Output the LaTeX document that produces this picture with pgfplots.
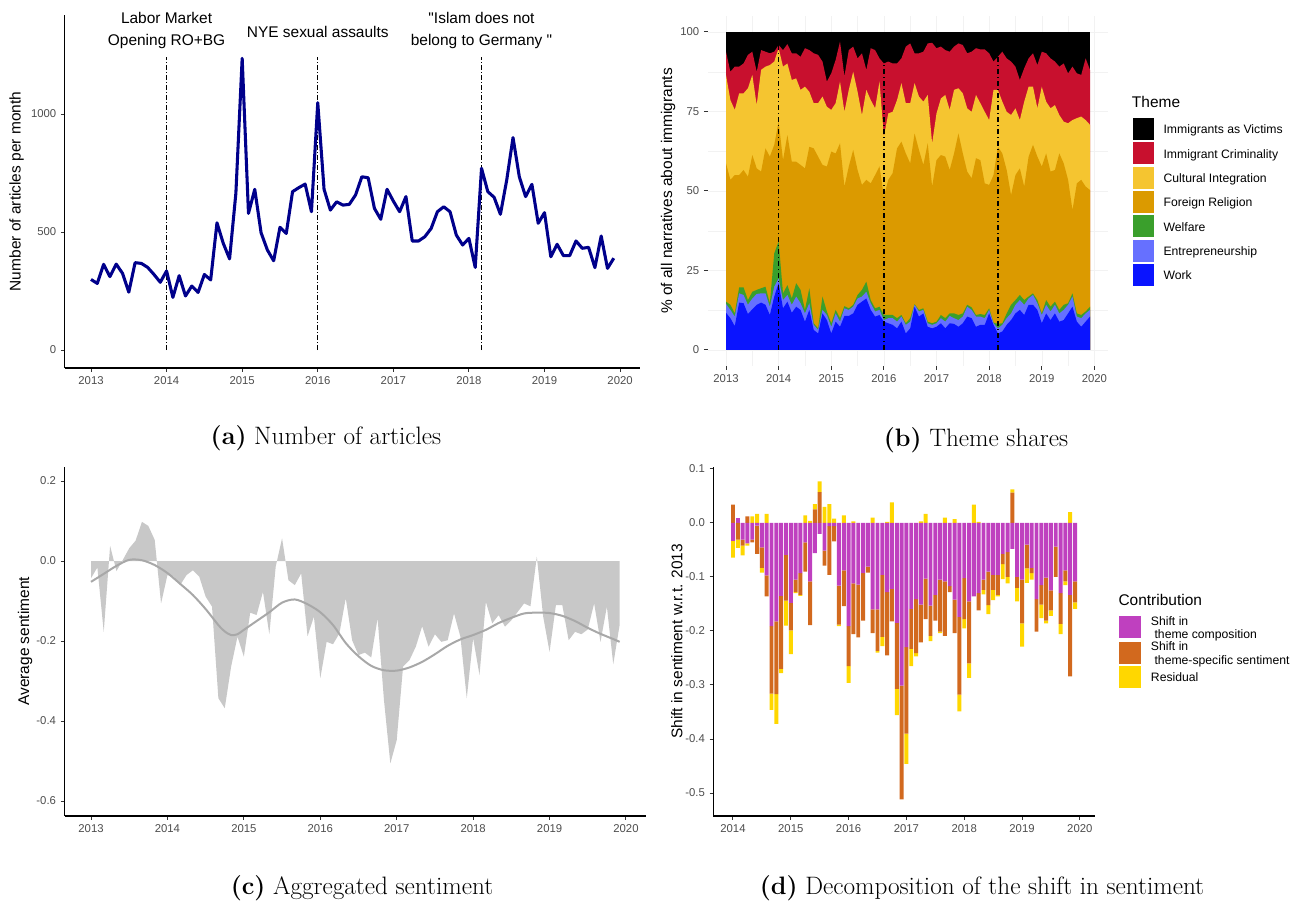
\documentclass[border=0pt]{standalone}
\usepackage{fontspec}
\setsansfont{Liberation Sans}
\usepackage{pgfplots}
\usepackage{pgfplotstable}
\pgfplotsset{compat=1.18}

\definecolor{navyline}{HTML}{00008B}
\definecolor{tickgrey}{HTML}{4D4D4D}
\definecolor{tickmark}{HTML}{333333}
\definecolor{gridgrey}{HTML}{F2F2F2}
\definecolor{cVict}{HTML}{000000}
\definecolor{cCrim}{HTML}{C8102E}
\definecolor{cCult}{HTML}{F5C530}
\definecolor{cRel}{HTML}{DB9A00}
\definecolor{cWelf}{HTML}{3A9F2C}
\definecolor{cEnt}{HTML}{6670FF}
\definecolor{cWork}{HTML}{0A14FF}
\definecolor{sentfill}{HTML}{C8C8C8}
\definecolor{sentline}{HTML}{A8A8A8}
\definecolor{cComp}{HTML}{BF40BF}
\definecolor{cSpec}{HTML}{D2691E}
\definecolor{cRes}{HTML}{FFD700}

% (a) number of articles per month, k = months since Jan 2013
\pgfplotstableread{
k n
0 299
1 282
2 363
3 311
4 364
5 325
6 245
7 370
8 367
9 350
10 320
11 287
12 335
13 223
14 315
15 229
16 271
17 244
18 320
19 297
20 539
21 452
22 386
23 664
24 1236
25 579
26 681
27 497
28 424
29 378
30 520
31 494
32 671
33 688
34 703
35 586
36 1048
37 681
38 593
39 628
40 614
41 617
42 657
43 734
44 730
45 600
46 554
47 681
48 631
49 586
50 650
51 462
52 462
53 480
54 515
55 586
56 607
57 586
58 487
59 445
60 473
61 350
62 770
63 671
64 647
65 575
66 720
67 900
68 734
69 650
70 702
71 537
72 582
73 395
74 448
75 400
76 400
77 462
78 431
79 435
80 349
81 483
82 346
83 389
}\tableA

% (b) cumulative theme shares (upper edge of each band, %)
\pgfplotstableread{
k B1 B2 B3 B4 B5 B6
0 11.7 14.5 15.2 58.7 86.5 93.8
1 10.0 12.6 14.2 53.5 78.6 87.5
2 7.5 10.5 11.5 55.0 75.5 89.1
3 14.9 17.8 19.7 55.0 80.7 89.1
4 14.7 17.3 19.7 56.6 80.7 90.1
5 11.3 14.2 15.7 54.5 82.3 92.8
6 12.8 16.2 18.3 61.3 86.5 93.8
7 14.2 17.6 18.9 57.1 77.0 87.5
8 14.9 17.8 19.4 56.1 88.1 94.3
9 14.2 17.8 19.9 63.4 89.1 93.8
10 11.0 13.6 14.7 60.8 89.6 93.3
11 16.8 19.9 30.4 64.5 90.7 93.8
12 21.0 22.5 34.1 71.8 94.9 95.9
13 13.1 15.7 17.8 59.7 89.1 94.3
14 15.2 17.3 20.4 67.6 90.1 96.2
15 11.7 14.2 16.2 59.2 84.9 93.3
16 13.6 16.8 21.0 59.2 85.4 93.3
17 12.6 14.7 18.9 58.2 81.8 92.2
18 8.9 11.5 12.6 57.1 82.8 94.9
19 12.6 14.7 19.4 63.9 81.2 94.3
20 6.3 7.9 8.4 63.4 77.6 93.3
21 5.2 6.3 6.8 60.8 77.6 92.8
22 11.5 12.6 16.8 58.2 79.7 90.7
23 9.4 11.0 12.1 57.7 76.5 84.4
24 5.2 7.3 8.4 62.4 75.5 87.0
25 8.9 11.5 12.6 61.8 77.6 91.2
26 7.3 8.9 10.0 65.0 84.4 97.0
27 10.7 13.1 13.8 51.4 74.9 86.0
28 10.7 12.6 13.1 57.7 81.8 94.3
29 11.5 13.6 14.2 62.9 87.5 95.4
30 14.2 16.2 17.3 56.6 81.2 91.7
31 15.2 16.8 18.9 51.9 73.9 93.3
32 16.2 18.3 21.5 53.5 81.8 88.1
33 12.6 14.7 15.7 52.4 78.6 94.9
34 10.5 12.1 13.1 55.0 76.0 94.3
35 11.0 12.6 13.6 57.7 84.4 91.7
36 8.9 9.4 11.0 48.2 67.1 90.1
37 8.4 10.0 11.0 53.5 74.4 90.7
38 7.9 10.0 11.0 55.6 74.9 90.1
39 6.8 8.9 10.0 63.4 78.6 90.1
40 8.9 10.5 11.0 65.5 83.9 91.7
41 5.2 7.9 8.4 61.8 77.6 95.4
42 6.8 8.9 10.0 58.7 77.6 96.4
43 13.6 14.2 14.4 68.1 83.9 93.3
44 10.5 12.1 12.6 62.9 79.7 93.3
45 11.5 12.6 13.1 58.2 78.1 93.8
46 7.3 8.4 8.9 65.0 80.2 96.4
47 6.8 7.9 8.4 51.4 65.0 96.6
48 7.3 8.4 8.9 59.7 74.4 94.9
49 8.4 10.0 11.0 61.3 79.1 95.4
50 6.8 8.9 10.0 60.8 80.2 94.3
51 8.4 10.7 11.5 56.6 75.5 93.8
52 8.2 10.0 11.5 61.8 81.8 95.4
53 7.3 9.4 11.0 68.1 82.3 96.4
54 8.4 10.5 11.5 61.8 80.7 95.9
55 10.5 13.6 14.2 56.1 76.0 93.3
56 10.0 12.6 13.4 54.0 74.9 93.8
57 7.3 10.5 11.0 60.3 80.2 94.9
58 7.9 10.5 11.3 59.7 77.6 94.5
59 7.9 10.0 11.0 52.4 74.9 94.5
60 11.5 12.6 13.1 51.9 72.3 93.3
61 7.9 8.4 8.6 55.0 81.8 90.7
62 5.2 6.8 8.2 63.9 81.8 92.2
63 5.8 7.9 8.4 61.8 78.1 93.8
64 7.9 10.0 11.5 56.6 74.9 91.7
65 9.4 11.5 14.2 48.7 73.9 90.7
66 11.5 14.2 15.7 55.0 76.0 89.1
67 12.6 15.7 17.3 57.1 72.3 84.9
68 11.0 14.2 15.7 51.4 78.1 88.6
69 14.2 16.2 16.8 60.8 82.8 91.7
70 14.2 17.3 17.8 64.5 82.8 93.3
71 12.6 14.7 15.7 60.8 76.0 89.6
72 8.4 11.0 11.5 57.7 82.8 93.8
73 11.5 14.2 15.7 61.8 78.1 93.3
74 9.4 12.1 13.6 56.1 76.0 91.7
75 11.5 14.2 15.2 56.6 77.0 90.7
76 8.9 11.5 12.6 61.8 73.9 89.1
77 9.4 12.6 14.2 58.7 71.8 90.1
78 11.5 14.2 14.7 53.5 71.3 87.0
79 13.6 16.8 17.8 44.0 72.3 89.1
80 8.9 10.5 11.5 52.4 72.9 87.0
81 7.3 10.0 11.0 53.5 73.4 86.5
82 8.9 11.5 12.1 51.4 72.3 91.7
83 10.5 12.6 13.6 50.3 70.8 88.1
}\tableB

% (c) monthly average sentiment
\pgfplotstableread{
k s
0 -0.043
1 -0.016
2 -0.177
3 0.038
4 -0.025
5 0.003
6 0.032
7 0.051
8 0.098
9 0.088
10 0.053
11 -0.106
12 -0.035
13 -0.039
14 -0.060
15 -0.035
16 -0.023
17 -0.039
18 -0.089
19 -0.114
20 -0.343
21 -0.368
22 -0.264
23 -0.189
24 -0.239
25 -0.129
26 -0.135
27 -0.077
28 -0.183
29 -0.014
30 0.057
31 -0.048
32 -0.060
33 -0.031
34 -0.188
35 -0.139
36 -0.293
37 -0.202
38 -0.208
39 -0.181
40 -0.093
41 -0.198
42 -0.235
43 -0.229
44 -0.241
45 -0.143
46 -0.348
47 -0.506
48 -0.448
49 -0.264
50 -0.248
51 -0.214
52 -0.163
53 -0.214
54 -0.183
55 -0.202
56 -0.198
57 -0.131
58 -0.189
59 -0.343
60 -0.193
61 -0.285
62 -0.102
63 -0.156
64 -0.135
65 -0.164
66 -0.148
67 -0.127
68 -0.106
69 -0.113
70 0.011
71 -0.139
72 -0.227
73 -0.110
74 -0.110
75 -0.198
76 -0.177
77 -0.183
78 -0.171
79 -0.106
80 -0.202
81 -0.114
82 -0.258
83 -0.160
}\tableC

% (c) smoothed trend
\pgfplotstableread{
k v
0 -0.052
2 -0.032
4 -0.012
6 0.003
8 0.002
10 -0.010
12 -0.030
14 -0.057
16 -0.085
18 -0.120
20 -0.160
21 -0.176
22 -0.185
23 -0.183
24 -0.172
26 -0.150
28 -0.128
30 -0.104
32 -0.096
34 -0.108
36 -0.128
38 -0.160
40 -0.205
42 -0.238
44 -0.262
46 -0.273
48 -0.274
50 -0.266
52 -0.252
54 -0.233
56 -0.212
58 -0.196
60 -0.185
62 -0.172
64 -0.155
66 -0.142
68 -0.131
70 -0.129
72 -0.130
74 -0.137
76 -0.150
78 -0.167
80 -0.182
82 -0.195
83 -0.202
}\tableCs

% (d) decomposition, k = months since Jan 2014: P composition, O theme-specific, Y residual
\pgfplotstableread{
k P O Y
0 -0.033 0.034 -0.031
1 0.009 -0.031 -0.015
2 -0.031 -0.011 -0.018
3 -0.038 0.012 -0.004
4 -0.031 -0.005 0.012
5 -0.005 -0.052 0.017
6 -0.045 -0.038 -0.009
7 -0.097 -0.039 0.017
8 -0.191 -0.125 -0.030
9 -0.182 -0.135 -0.055
10 -0.135 -0.135 -0.008
11 -0.059 -0.085 -0.046
12 -0.148 -0.051 -0.044
13 -0.105 -0.023 -0.002
14 -0.093 -0.040 -0.002
15 -0.036 -0.054 0.014
16 -0.108 -0.081 0.004
17 -0.056 0.025 0.010
18 -0.020 0.057 0.020
19 -0.051 -0.028 0.030
20 -0.006 -0.090 0.035
21 -0.006 -0.028 0.008
22 -0.116 -0.072 -0.003
23 -0.088 -0.066 0.014
24 -0.191 -0.074 -0.031
25 -0.112 -0.094 0.003
26 -0.114 -0.098 0.000
27 -0.093 -0.088 0.000
28 -0.081 -0.011 0.000
29 -0.160 -0.044 0.010
30 -0.160 -0.077 -0.003
31 -0.096 -0.115 -0.017
32 -0.128 -0.117 0.002
33 -0.122 -0.060 0.038
34 -0.185 -0.122 -0.049
35 -0.301 -0.211 0.000
36 -0.230 -0.160 -0.056
37 -0.159 -0.074 -0.032
38 -0.141 -0.100 -0.006
39 -0.151 -0.070 0.003
40 -0.103 -0.075 0.017
41 -0.153 -0.056 -0.010
42 -0.133 -0.048 0.000
43 -0.105 -0.096 -0.003
44 -0.108 -0.101 0.010
45 -0.117 -0.011 0.000
46 -0.142 -0.062 0.007
47 -0.174 -0.144 -0.031
48 -0.102 -0.076 -0.017
49 -0.145 -0.115 -0.027
50 -0.136 0.000 0.034
51 -0.130 -0.032 0.002
52 -0.105 -0.019 -0.008
53 -0.090 -0.062 -0.017
54 -0.096 -0.028 -0.019
55 -0.096 -0.037 -0.003
56 -0.057 -0.019 -0.028
57 -0.054 -0.046 -0.012
58 -0.048 0.056 0.006
59 -0.100 -0.020 -0.025
60 -0.105 -0.081 -0.043
61 -0.040 -0.044 -0.027
62 -0.083 -0.010 -0.012
63 -0.141 -0.060 0.000
64 -0.115 -0.036 -0.025
65 -0.101 -0.080 -0.005
66 -0.125 -0.037 -0.010
67 -0.044 -0.056 0.000
68 -0.130 -0.057 -0.019
69 -0.088 -0.020 -0.007
70 -0.133 -0.151 0.020
71 -0.108 -0.039 -0.012
}\tableD

\pgfplotsset{
  ggbase/.style={
    scale only axis, anchor=south west,
    xmin=-4.15, xmax=87.15,
    tick align=outside,
    major tick length=2.9pt,
    tick style={color=tickmark, line width=0.75pt},
    tick label style={font=\sffamily\fontsize{8.5}{10}\selectfont, text=tickgrey},
    label style={font=\sffamily\fontsize{11.6}{13}\selectfont, text=black},
    xtick={0,12,24,36,48,60,72,84},
    xticklabels={2013,2014,2015,2016,2017,2018,2019,2020},
  },
  ggclassic/.style={
    ggbase,
    axis x line*=bottom, axis y line*=left,
    axis line style={black, line width=0.9pt, -},
  },
}

\begin{document}
\begin{tikzpicture}
\path[use as bounding box] (0pt,0pt) rectangle (967.5pt,-675.75pt);

% ---------- (a) ----------
\begin{axis}[ggclassic, at={(48.65pt,-276pt)}, width=431.3pt, height=264.75pt,
  ymin=-76.3, ymax=1419.5, ytick={0,500,1000}, yticklabels={0,500,1000},
  ylabel={Number of articles per month},
  ylabel style={at={(axis description cs:-0.084,0.5)}, anchor=center},
  clip=false]
\addplot[black, line width=0.8pt, dash pattern=on 3.5pt off 1.6pt on 0.8pt off 1.6pt] coordinates {(12,0) (12,1240)};
\addplot[black, line width=0.8pt, dash pattern=on 3.5pt off 1.6pt on 0.8pt off 1.6pt] coordinates {(36,0) (36,1240)};
\addplot[black, line width=0.8pt, dash pattern=on 3.5pt off 1.6pt on 0.8pt off 1.6pt] coordinates {(62,0) (62,1240)};
\addplot[navyline, line width=2.3pt, line join=round] table[x=k,y=n]{\tableA};
\node[font=\sffamily\fontsize{11.6}{16.5}\selectfont, align=center] at (axis cs:12,1352) {Labor Market\\Opening RO+BG};
\node[font=\sffamily\fontsize{11.6}{16.5}\selectfont, align=center] at (axis cs:36,1347) {NYE sexual assaults};
\node[font=\sffamily\fontsize{11.6}{16.5}\selectfont, align=center] at (axis cs:62,1352) {\textquotedbl Islam does not\\belong to Germany \textquotedbl};
\end{axis}

% ---------- (b) ----------
\begin{axis}[ggbase, at={(530.85pt,-274.4pt)}, width=300.3pt, height=262.35pt,
  ymin=-5, ymax=105, ytick={0,25,50,75,100}, yticklabels={0,25,50,75,100},
  axis x line*=bottom, axis y line*=left, axis line style={draw=none},
  grid=both, major grid style={color=gridgrey, line width=0.4pt},
  minor grid style={color=gridgrey, line width=0.25pt},
  minor xtick={6,18,30,42,54,66,78}, minor ytick={12.5,37.5,62.5,87.5},
  minor tick length=0pt,
  ylabel={\% of all narratives about immigrants},
  ylabel style={at={(axis description cs:-0.0994,0.5)}, anchor=center}]
\addplot[fill=cVict, draw=none] coordinates {(0,100) (83,100)} \closedcycle;
\addplot[fill=cCrim, draw=none] table[x=k,y=B6]{\tableB} \closedcycle;
\addplot[fill=cCult, draw=none] table[x=k,y=B5]{\tableB} \closedcycle;
\addplot[fill=cRel, draw=none] table[x=k,y=B4]{\tableB} \closedcycle;
\addplot[fill=cWelf, draw=none] table[x=k,y=B3]{\tableB} \closedcycle;
\addplot[fill=cEnt, draw=none] table[x=k,y=B2]{\tableB} \closedcycle;
\addplot[fill=cWork, draw=none] table[x=k,y=B1]{\tableB} \closedcycle;
\addplot[black, line width=1.1pt, dash pattern=on 4pt off 2pt on 1pt off 2pt] coordinates {(12,0) (12,100)};
\addplot[black, line width=1.1pt, dash pattern=on 4pt off 2pt on 1pt off 2pt] coordinates {(36,0) (36,100)};
\addplot[black, line width=1.1pt, dash pattern=on 4pt off 2pt on 1pt off 2pt] coordinates {(62,0) (62,100)};
\end{axis}

% ---------- (c) ----------
\begin{axis}[ggclassic, at={(48.43pt,-612pt)}, width=436.1pt, height=262pt,
  ymin=-0.6375, ymax=0.236,
  ytick={-0.6,-0.4,-0.2,0,0.2}, yticklabels={-0.6,-0.4,-0.2,0.0,0.2},
  ylabel={Average sentiment},
  ylabel style={at={(axis description cs:-0.068,0.5)}, anchor=center}]
\addplot[fill=sentfill, draw=none] table[x=k,y=s]{\tableC} \closedcycle;
\addplot[sentline, line width=1.5pt, smooth] table[x=k,y=v]{\tableCs};
\end{axis}

% ---------- (d) ----------
\begin{axis}[ggclassic, at={(535.1pt,-612pt)}, width=285.8pt, height=261.9pt,
  xmin=-4.05, xmax=75.05, ymin=-0.5426, ymax=0.104,
  xtick={0,12,24,36,48,60,72}, xticklabels={2014,2015,2016,2017,2018,2019,2020},
  ytick={-0.5,-0.4,-0.3,-0.2,-0.1,0,0.1}, yticklabels={-0.5,-0.4,-0.3,-0.2,-0.1,0.0,0.1},
  ylabel={Shift in sentiment w.r.t. 2013},
  ylabel style={at={(axis description cs:-0.0958,0.5)}, anchor=center},
  ybar stacked, bar width=0.82]
\addplot[fill=cComp, draw=none] table[x=k, y expr={max(\thisrow{P},0)}]{\tableD};
\addplot[fill=cSpec, draw=none] table[x=k, y expr={max(\thisrow{O},0)}]{\tableD};
\addplot[fill=cRes, draw=none] table[x=k, y expr={max(\thisrow{Y},0)}]{\tableD};
\end{axis}
\begin{axis}[scale only axis, anchor=south west, at={(535.1pt,-612pt)}, width=285.8pt, height=261.9pt,
  xmin=-4.05, xmax=75.05, ymin=-0.5426, ymax=0.104, hide axis,
  ybar stacked, bar width=0.82]
\addplot[fill=cComp, draw=none] table[x=k, y expr={min(\thisrow{P},0)}]{\tableD};
\addplot[fill=cSpec, draw=none] table[x=k, y expr={min(\thisrow{O},0)}]{\tableD};
\addplot[fill=cRes, draw=none] table[x=k, y expr={min(\thisrow{Y},0)}]{\tableD};
\end{axis}

% ---------- legends and captions (pixel coordinates) ----------
\begin{scope}[x=0.75pt, y=-0.75pt]
\node[anchor=base west, font=\sffamily\fontsize{11.6}{13}\selectfont, inner sep=0pt] at (1131.7,107.8) {Theme};
\foreach \c/\t [count=\i from 0] in {cVict/Immigrants as Victims, cCrim/Immigrant Criminality, cCult/Cultural Integration, cRel/Foreign Religion, cWelf/Welfare, cEnt/Entrepreneurship, cWork/Work} {
  \fill[\c] (1132.7,{128.9+24.33*\i-11}) rectangle (1154.3,{128.9+24.33*\i+11});
  \node[anchor=base west, font=\sffamily\fontsize{9.15}{11}\selectfont, inner sep=0pt] at (1163.3,{128.9+24.33*\i+5}) {\t};
}
\node[anchor=base west, font=\sffamily\fontsize{11.6}{13}\selectfont, inner sep=0pt] at (1118.3,605.5) {Contribution};
\fill[cComp] (1119,616) rectangle (1141,638);
\fill[cSpec] (1119,641.5) rectangle (1141,663.5);
\fill[cRes] (1119,666) rectangle (1141,688);
\node[anchor=base west, font=\sffamily\fontsize{9.15}{11}\selectfont, inner sep=0pt] at (1150.7,625) {Shift in};
\node[anchor=base west, font=\sffamily\fontsize{9.15}{11}\selectfont, inner sep=0pt] at (1154.3,638.3) {theme composition};
\node[anchor=base west, font=\sffamily\fontsize{9.15}{11}\selectfont, inner sep=0pt] at (1150.7,650.7) {Shift in};
\node[anchor=base west, font=\sffamily\fontsize{9.15}{11}\selectfont, inner sep=0pt] at (1154.3,664) {theme-specific sentiment};
\node[anchor=base west, font=\sffamily\fontsize{9.15}{11}\selectfont, inner sep=0pt] at (1150.7,681.7) {Residual};

\node[font=\rmfamily\fontsize{18.9}{21}\selectfont] at (326,438) {\textbf{(a)} Number of articles};
\node[font=\rmfamily\fontsize{18.9}{21}\selectfont] at (976,440) {\textbf{(b)} Theme shares};
\node[font=\rmfamily\fontsize{18.9}{21}\selectfont] at (362,888) {\textbf{(c)} Aggregated sentiment};
\node[font=\rmfamily\fontsize{18.9}{21}\selectfont] at (982,888) {\textbf{(d)} Decomposition of the shift in sentiment};
\end{scope}
\end{tikzpicture}
\end{document}
